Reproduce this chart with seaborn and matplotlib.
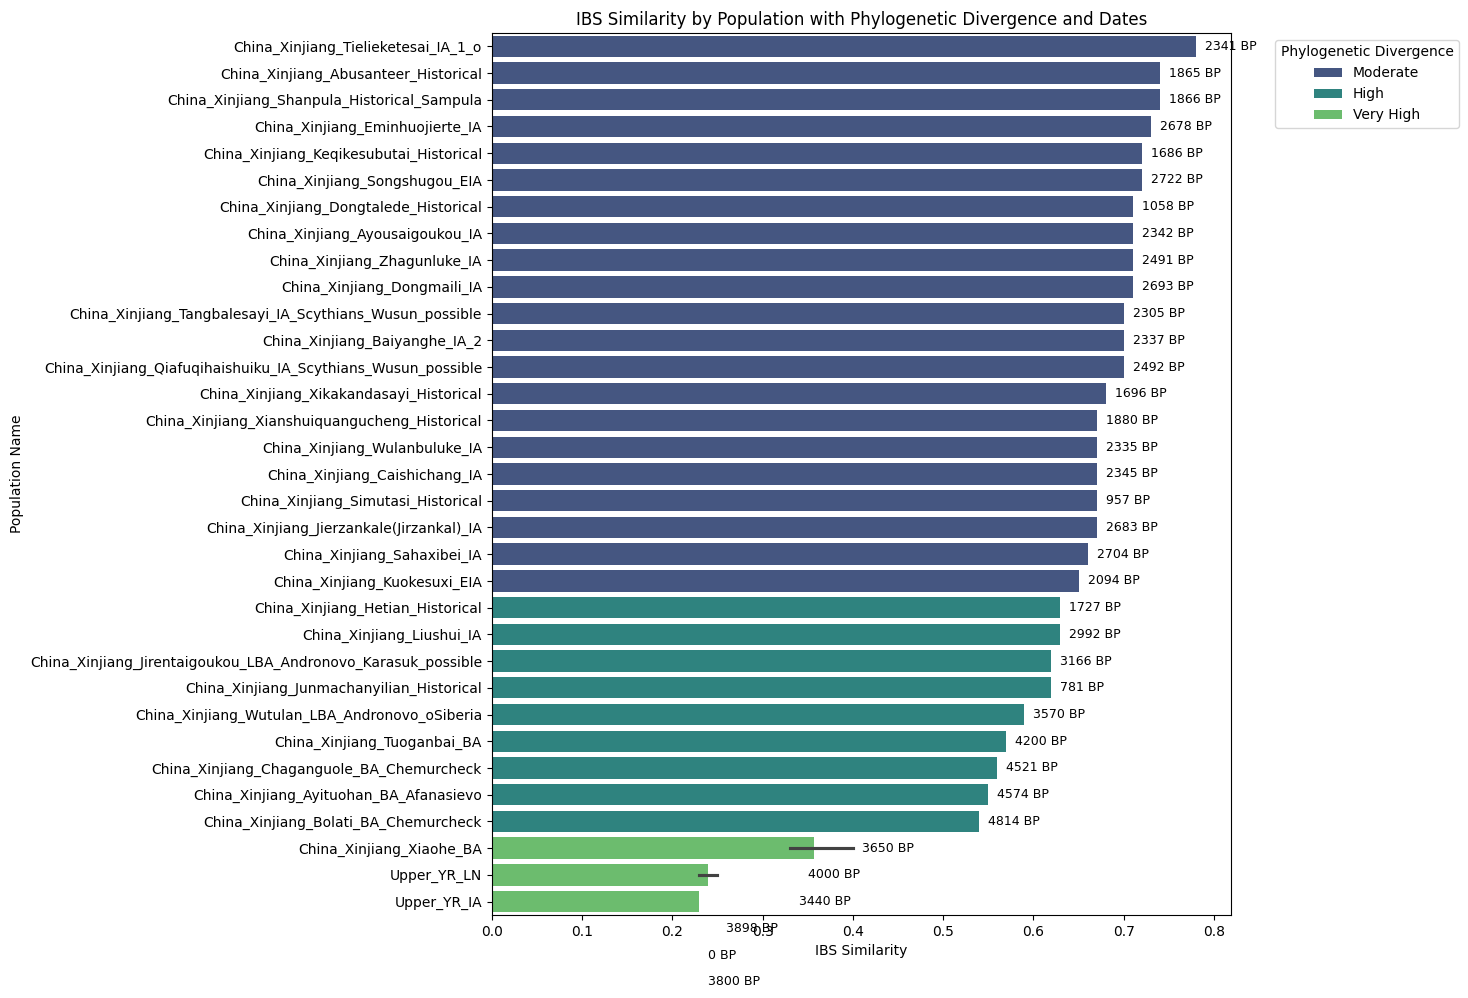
import pandas as pd
import numpy as np
import matplotlib
matplotlib.use('Agg')
import matplotlib.pyplot as plt
import seaborn as sns

# populations, sorted by IBS similarity (descending)
populations = [
    'China_Xinjiang_Tielieketesai_IA_1_o',
    'China_Xinjiang_Abusanteer_Historical',
    'China_Xinjiang_Shanpula_Historical_Sampula',
    'China_Xinjiang_Eminhuojierte_IA',
    'China_Xinjiang_Keqikesubutai_Historical',
    'China_Xinjiang_Songshugou_EIA',
    'China_Xinjiang_Dongtalede_Historical',
    'China_Xinjiang_Ayousaigoukou_IA',
    'China_Xinjiang_Zhagunluke_IA',
    'China_Xinjiang_Dongmaili_IA',
    'China_Xinjiang_Tangbalesayi_IA_Scythians_Wusun_possible',
    'China_Xinjiang_Baiyanghe_IA_2',
    'China_Xinjiang_Qiafuqihaishuiku_IA_Scythians_Wusun_possible',
    'China_Xinjiang_Xikakandasayi_Historical',
    'China_Xinjiang_Xianshuiquangucheng_Historical',
    'China_Xinjiang_Wulanbuluke_IA',
    'China_Xinjiang_Caishichang_IA',
    'China_Xinjiang_Simutasi_Historical',
    'China_Xinjiang_Jierzankale(Jirzankal)_IA',
    'China_Xinjiang_Sahaxibei_IA',
    'China_Xinjiang_Kuokesuxi_EIA',
    'China_Xinjiang_Hetian_Historical',
    'China_Xinjiang_Liushui_IA',
    'China_Xinjiang_Jirentaigoukou_LBA_Andronovo_Karasuk_possible',
    'China_Xinjiang_Junmachanyilian_Historical',
    'China_Xinjiang_Wutulan_LBA_Andronovo_oSiberia',
    'China_Xinjiang_Tuoganbai_BA',
    'China_Xinjiang_Chaganguole_BA_Chemurcheck',
    'China_Xinjiang_Ayituohan_BA_Afanasievo',
    'China_Xinjiang_Bolati_BA_Chemurcheck',
    'China_Xinjiang_Xiaohe_BA',
    'China_Xinjiang_Xiaohe_BA',
    'China_Xinjiang_Xiaohe_BA',
    'Upper_YR_LN',
    'Upper_YR_IA',
    'Upper_YR_LN',
]

ibs = [0.78, 0.74, 0.74, 0.73, 0.72, 0.72, 0.71, 0.71, 0.71, 0.71,
       0.70, 0.70, 0.70, 0.68, 0.67, 0.67, 0.67, 0.67, 0.67, 0.66,
       0.65, 0.63, 0.63, 0.62, 0.62, 0.59, 0.57, 0.56, 0.55, 0.54,
       0.40, 0.34, 0.33, 0.25, 0.23, 0.23]

divergence = ['Moderate'] * 21 + ['High'] * 9 + ['Very High'] * 6

dates = [2341, 1865, 1866, 2678, 1686, 2722, 1058, 2342, 2491, 2693,
         2305, 2337, 2492, 1696, 1880, 2335, 2345, 957, 2683, 2704,
         2094, 1727, 2992, 3166, 781, 3570, 4200, 4521, 4574, 4814,
         3650, 4000, 3440, 3898, 0, 3800]

df = pd.DataFrame({'Population Name': populations,
                   'IBS Similarity': ibs,
                   'Phylogenetic Divergence': divergence,
                   'Date': dates})

fig = plt.figure(figsize=(14.68, 9.98), dpi=100)
ax = fig.add_axes([0.335, 0.0832, 0.5036, 0.8838])

sns.barplot(data=df, x='IBS Similarity', y='Population Name',
            hue='Phylogenetic Divergence', palette='viridis', seed=0, ax=ax)

# date labels (placed by row index, like the original)
for i, (val, d) in enumerate(zip(df['IBS Similarity'], df['Date'])):
    ax.text(val + 0.01, i, f'{d} BP', va='center', ha='left', fontsize=9)

ax.set_title('IBS Similarity by Population with Phylogenetic Divergence and Dates')
ax.set_xlabel('IBS Similarity')
ax.set_ylabel('Population Name')
ax.legend(title='Phylogenetic Divergence', bbox_to_anchor=(1.05, 1), loc='upper left')

fig.savefig('out.png', dpi=100)
